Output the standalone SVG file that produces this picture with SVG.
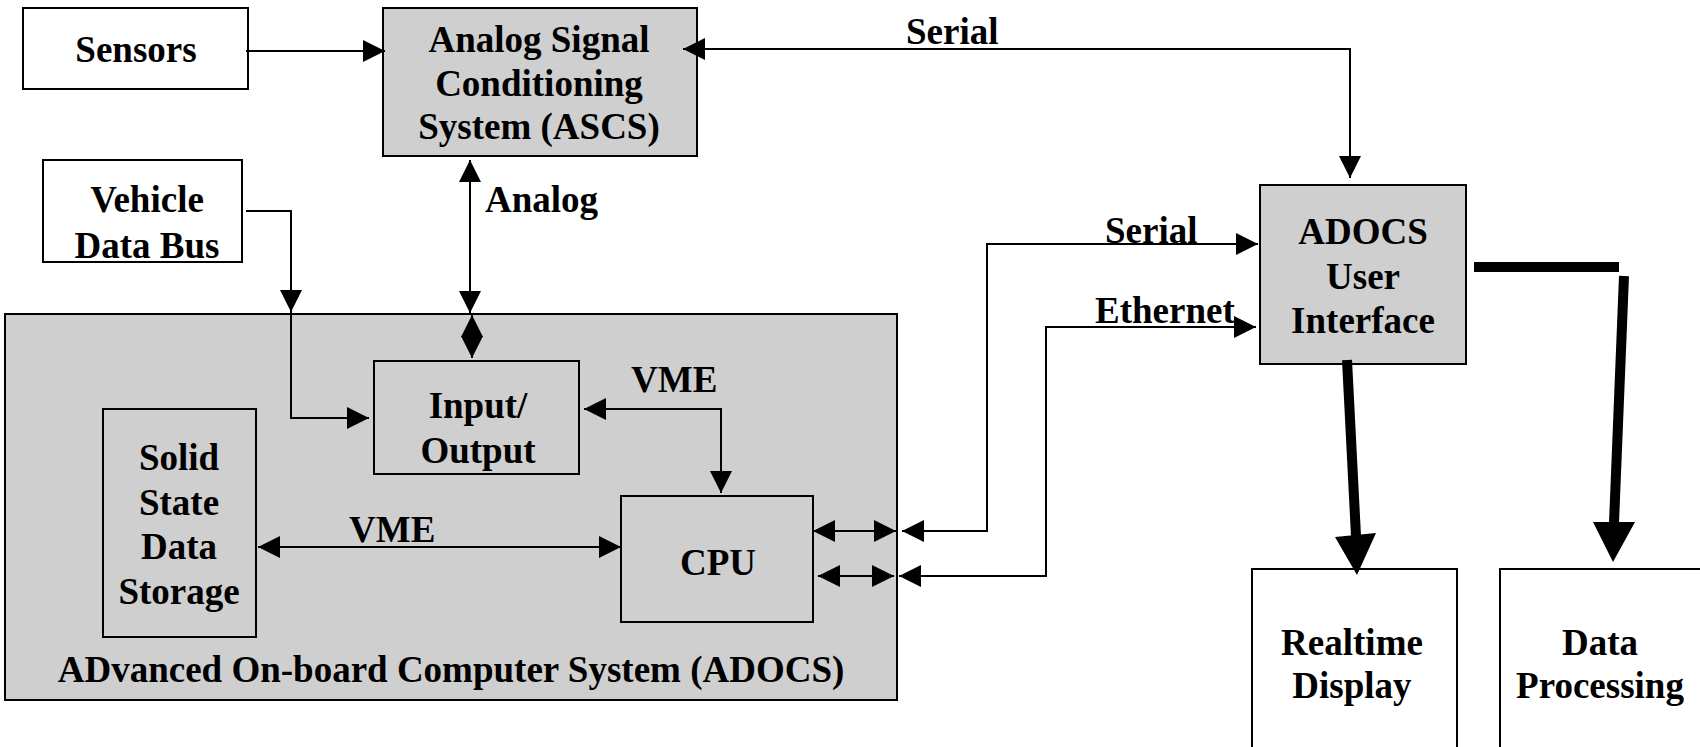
<svg xmlns="http://www.w3.org/2000/svg" width="1700" height="747" viewBox="0 0 1700 747">
<style>
.box{fill:#ffffff;stroke:#000;stroke-width:2}
.gbox{fill:#cfcfcf;stroke:#000;stroke-width:2}
.t{font-family:"Liberation Serif","Times New Roman",serif;font-weight:bold;font-size:37px;fill:#000}
.c{text-anchor:middle}
.ln{fill:none;stroke:#000;stroke-width:2}
.a2{marker-end:url(#ah)}
.ab{marker-start:url(#ah);marker-end:url(#ah)}
.thick{fill:none;stroke:#000;stroke-width:10;stroke-linecap:butt}
</style>
<defs>
<marker id="ah" markerUnits="userSpaceOnUse" markerWidth="22" markerHeight="22" refX="22" refY="11" orient="auto-start-reverse">
<path d="M0,0 L22,11 L0,22 z" fill="#000"/>
</marker>
</defs>
<rect width="1700" height="747" fill="#fff"/>

<g id="adocs">
<rect class="gbox" x="5" y="314" width="892" height="386"/>
<text class="t c" x="451" y="682">ADvanced On-board Computer System (ADOCS)</text>
</g>
<g id="sensors">
<rect class="box" x="23" y="8" width="225" height="81"/>
<text class="t c" x="136" y="62">Sensors</text>
</g>
<g id="ascs">
<rect class="gbox" x="383" y="8" width="314" height="148"/>
<text class="t c" x="539" y="52">Analog Signal</text>
<text class="t c" x="539" y="96">Conditioning</text>
<text class="t c" x="539" y="139">System (ASCS)</text>
</g>
<g id="vehicle">
<rect class="box" x="43" y="160" width="199" height="102"/>
<text class="t c" x="147" y="212">Vehicle</text>
<text class="t c" x="147" y="258">Data Bus</text>
</g>
<g id="io">
<rect class="gbox" x="374" y="361" width="205" height="113"/>
<text class="t c" x="478" y="418">Input/</text>
<text class="t c" x="478" y="463">Output</text>
</g>
<g id="storage">
<rect class="gbox" x="103" y="409" width="153" height="228"/>
<text class="t c" x="179" y="470">Solid</text>
<text class="t c" x="179" y="515">State</text>
<text class="t c" x="179" y="559">Data</text>
<text class="t c" x="179" y="604">Storage</text>
</g>
<g id="cpu">
<rect class="gbox" x="621" y="496" width="192" height="126"/>
<text class="t c" x="718" y="575">CPU</text>
</g>
<g id="ui">
<rect class="gbox" x="1260" y="185" width="206" height="179"/>
<text class="t c" x="1363" y="244">ADOCS</text>
<text class="t c" x="1363" y="289">User</text>
<text class="t c" x="1363" y="333">Interface</text>
</g>
<g id="realtime">
<rect class="box" x="1252" y="569" width="205" height="180"/>
<text class="t c" x="1352" y="655">Realtime</text>
<text class="t c" x="1352" y="698">Display</text>
</g>
<g id="processing">
<rect class="box" x="1500" y="569" width="205" height="180"/>
<text class="t c" x="1600" y="655">Data</text>
<text class="t c" x="1600" y="698">Processing</text>
</g>

<g id="connectors">
<path class="ln a2" d="M246,51 H385"/>
<path class="ln ab" d="M683,49 H1350 V178"/>
<text class="t" x="906" y="44">Serial</text>
<path class="ln ab" d="M470,160 V313"/>
<path class="ln ab" d="M472,315 V358"/>
<text class="t" x="485" y="212">Analog</text>
<path class="ln a2" d="M246,211 H291 V312"/>
<path class="ln a2" d="M291,312 V418 H369"/>
<path class="ln ab" d="M584,409 H721 V493"/>
<text class="t" x="631" y="392">VME</text>
<path class="ln ab" d="M258,547 H621"/>
<text class="t" x="349" y="542">VME</text>
<path class="ln ab" d="M813,531 H896"/>
<path class="ln ab" d="M818,576 H894"/>
<path class="ln ab" d="M902,531 H987 V244 H1258"/>
<text class="t" x="1105" y="243">Serial</text>
<path class="ln ab" d="M899,576 H1046 V327 H1256"/>
<text class="t" x="1095" y="323">Ethernet</text>
<path class="thick" d="M1347,360 L1356,536"/>
<polygon points="1335,537 1376,533 1357,575" fill="#000"/>
<path class="thick" d="M1474,267 H1619"/>
<path class="thick" d="M1624,276 L1614,523"/>
<polygon points="1593,522 1635,522 1613,562" fill="#000"/>
</g>
</svg>
